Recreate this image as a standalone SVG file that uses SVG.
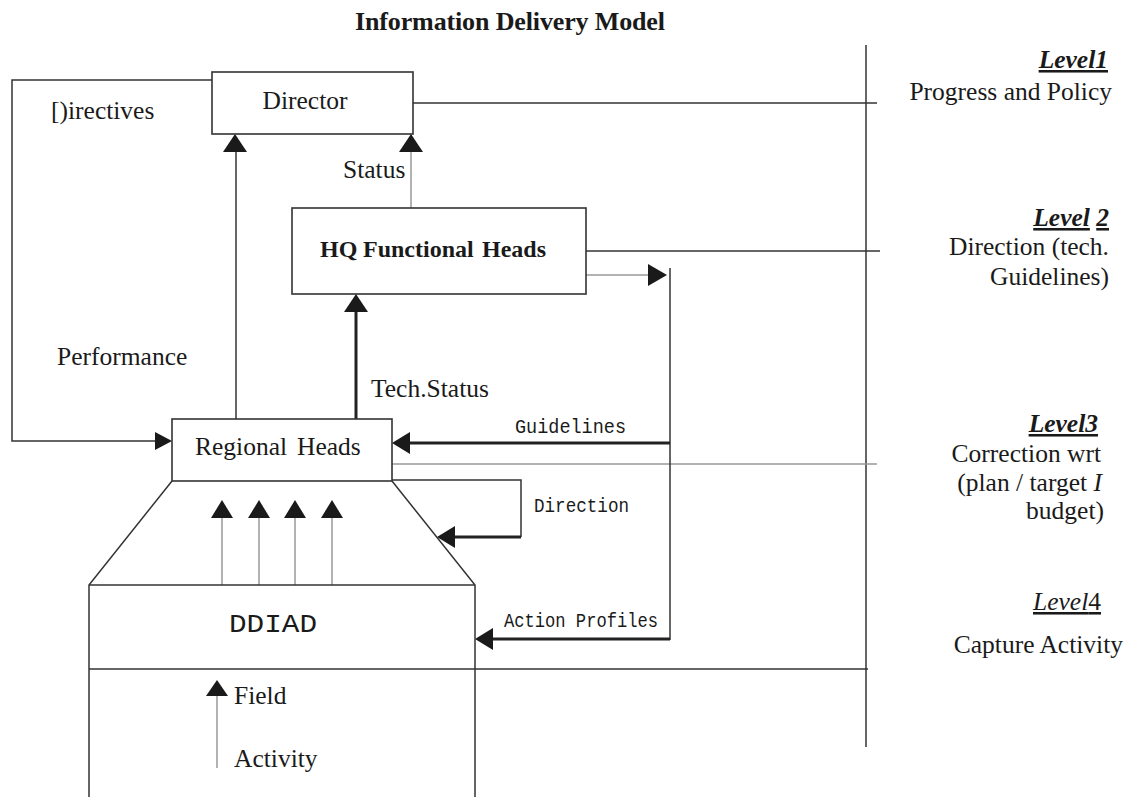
<svg xmlns="http://www.w3.org/2000/svg" width="1135" height="797" viewBox="0 0 1135 797">
<style>
.bg{fill:#fff}
.box{fill:#fff;stroke:#333;stroke-width:1.6}
.ln{fill:none;stroke:#333;stroke-width:1.5}
.lt{fill:none;stroke:#999;stroke-width:1.5}
.th{fill:none;stroke:#222;stroke-width:3}
.ah{fill:#1a1a1a}
.s{font-family:"Liberation Serif","Times New Roman",serif;font-size:25.5px;fill:#1a1a1a}
.b{font-weight:bold}
.i{font-style:italic}
.u{text-decoration:underline}
.m{font-family:"Liberation Mono","Courier New",monospace;font-size:21px;fill:#1a1a1a}
.t{font-size:26px}
.hq{font-size:24px}
</style>
<rect class="bg" x="0" y="0" width="1135" height="797"/>
<text class="s b t" x="355" y="30" textLength="310" lengthAdjust="spacing">Information Delivery Model</text>

<g id="connectors">
  <line class="ln" x1="866" y1="45" x2="866" y2="747"/>
  <line class="ln" x1="413" y1="103" x2="877" y2="103"/>
  <line class="ln" x1="586" y1="251" x2="880" y2="251"/>
  <line class="lt" x1="392" y1="464" x2="877" y2="464"/>
  <line class="ln" x1="89" y1="669" x2="868" y2="669"/>
  <polyline class="ln" points="212,80 12,80 12,441 156,441"/>
  <polygon class="ah" points="172,441 155,432 155,450"/>
  <line class="ln" x1="236" y1="419" x2="236" y2="150"/>
  <polygon class="ah" points="235,134 223,152 247,152"/>
  <line class="lt" x1="411" y1="208" x2="411" y2="150"/>
  <polygon class="ah" points="411,134 399,152 423,152"/>
  <line class="th" x1="356" y1="419" x2="356" y2="310"/>
  <polygon class="ah" points="356,294 344,312 368,312"/>
  <line class="lt" x1="586" y1="275" x2="650" y2="275"/>
  <polygon class="ah" points="667,275 648,264 648,286"/>
  <line class="ln" x1="670" y1="268" x2="670" y2="640"/>
  <line class="th" x1="670" y1="443" x2="408" y2="443"/>
  <polygon class="ah" points="392,443 410,432 410,454"/>
  <line class="th" x1="670" y1="639" x2="491" y2="639"/>
  <polygon class="ah" points="475,639 493,628 493,650"/>
  <polyline class="ln" points="392,480 521,480 521,537"/>
  <line class="th" x1="521" y1="537" x2="452" y2="537"/>
  <polygon class="ah" points="437,537 455,526 455,548"/>
  <line class="lt" x1="222" y1="585" x2="222" y2="516"/>
  <line class="lt" x1="259" y1="585" x2="259" y2="516"/>
  <line class="lt" x1="295" y1="585" x2="295" y2="516"/>
  <line class="lt" x1="332" y1="585" x2="332" y2="516"/>
  <polygon class="ah" points="222,500 211,518 233,518"/>
  <polygon class="ah" points="259,500 248,518 270,518"/>
  <polygon class="ah" points="295,500 284,518 306,518"/>
  <polygon class="ah" points="332,500 321,518 343,518"/>
  <line class="lt" x1="217" y1="768" x2="217" y2="694"/>
  <polygon class="ah" points="217,680 206,696 228,696"/>
</g>

<g id="labels">
  <text class="s" x="51" y="119">[)irectives</text>
  <text class="s" x="343" y="178">Status</text>
  <text class="s" x="57" y="365">Performance</text>
  <text class="s" x="371" y="397">Tech.Status</text>
  <text class="m" x="515" y="433" textLength="111" lengthAdjust="spacingAndGlyphs">Guidelines</text>
  <text class="m" x="534" y="512" textLength="95" lengthAdjust="spacingAndGlyphs">Direction</text>
  <text class="m" x="504" y="627" textLength="154" lengthAdjust="spacingAndGlyphs">Action Profiles</text>
  <text class="s" x="234" y="704">Field</text>
  <text class="s" x="234" y="767">Activity</text>
</g>

<g id="node-director">
  <rect class="box" x="212" y="72" width="201" height="62"/>
  <text class="s" x="305" y="109" text-anchor="middle">Director</text>
</g>

<g id="node-hq">
  <rect class="box" x="292" y="208" width="294" height="86"/>
  <text class="s b hq" y="257"><tspan x="320">HQ</tspan><tspan x="363">Functional</tspan><tspan x="482">Heads</tspan></text>
</g>

<g id="node-regional">
  <rect class="box" x="172" y="419" width="220" height="62"/>
  <text class="s" y="455"><tspan x="195">Regional</tspan><tspan x="297">Heads</tspan></text>
</g>

<g id="node-ddiad">
  <polyline class="ln" points="172,481 89,585 89,797"/>
  <polyline class="ln" points="392,481 475,585 475,797"/>
  <line class="ln" x1="89" y1="585" x2="475" y2="585"/>
  <text class="m" x="229" y="632" style="font-size:25px" textLength="88" lengthAdjust="spacingAndGlyphs">DDIAD</text>
</g>

<g id="level1">
  <text class="s b i" x="1108" y="68" text-anchor="end"><tspan class="u">Level1</tspan></text>
  <text class="s" x="1112" y="100" text-anchor="end">Progress and Policy</text>
</g>
<g id="level2">
  <text class="s b i" x="1109" y="226" text-anchor="end"><tspan class="u">Level</tspan> <tspan class="u">2</tspan></text>
  <text class="s" x="1109" y="255" text-anchor="end">Direction (tech.</text>
  <text class="s" x="1109" y="285" text-anchor="end">Guidelines)</text>
</g>
<g id="level3">
  <text class="s b i" x="1098" y="432" text-anchor="end"><tspan class="u">Level3</tspan></text>
  <text class="s" x="1101" y="462" text-anchor="end">Correction wrt</text>
  <text class="s" x="1102" y="491" text-anchor="end">(plan / target <tspan class="i">I</tspan></text>
  <text class="s" x="1104" y="519" text-anchor="end">budget)</text>
</g>
<g id="level4">
  <text class="s" x="1101" y="610" text-anchor="end"><tspan class="i u">Level</tspan><tspan class="u">4</tspan></text>
  <text class="s" x="1123" y="653" text-anchor="end">Capture Activity</text>
</g>
</svg>
